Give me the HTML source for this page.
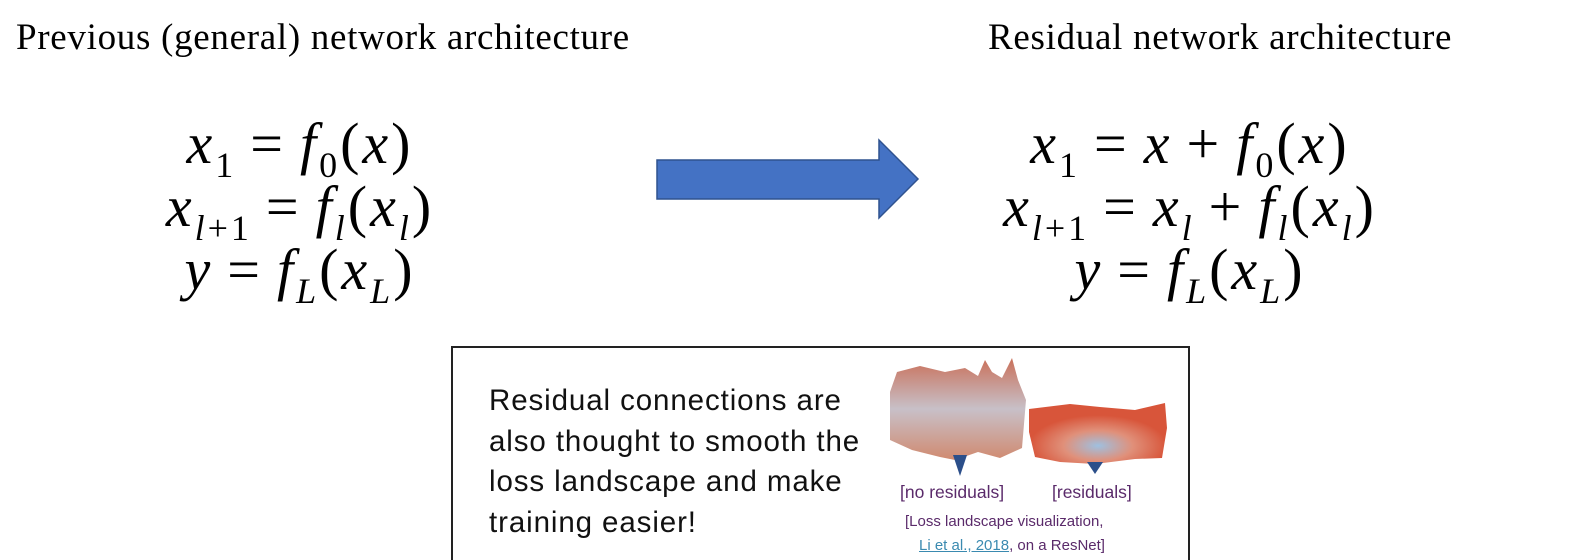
<!DOCTYPE html>
<html style="margin:0;width:1579px;height:560px;overflow:hidden"><head><meta charset="utf-8"><style>
body{margin:0;width:1579px;height:560px;background:#fff;position:relative;overflow:hidden;font-family:"Liberation Serif",serif;color:#000}
.t{position:absolute;top:16px;font-size:37px;letter-spacing:0.7px;white-space:nowrap}
.eq{position:absolute;width:600px;text-align:center;font-size:58px;line-height:63px;font-style:italic;white-space:nowrap;letter-spacing:3px}
.eq sub{font-size:36px;vertical-align:-14px;line-height:0}
.eq .u{font-style:normal}
.eq .o{font-style:normal;margin:0 14px}
.box{position:absolute;left:451px;top:346px;width:739px;height:214px;border:2px solid #222;border-bottom:none;box-sizing:border-box}
.bt{position:absolute;left:489px;top:381px;font-family:"Liberation Sans",sans-serif;font-size:29.5px;letter-spacing:0.9px;line-height:40.7px;color:#111}
.cap{position:absolute;font-family:"Liberation Sans",sans-serif;color:#5a2a6a;white-space:nowrap}
</style></head><body>
<div class="t" style="left:16px">Previous (general) network architecture</div>
<div class="t" style="left:988px">Residual network architecture</div>
<div class="eq" style="left:0;top:112px">x<sub class="u">1</sub><span class="o">=</span>f<sub class="u">0</sub><span class="u">(</span>x<span class="u">)</span><br>x<sub>l<span class="u">+1</span></sub><span class="o">=</span>f<sub>l</sub><span class="u">(</span>x<sub>l</sub><span class="u">)</span><br>y<span class="o">=</span>f<sub>L</sub><span class="u">(</span>x<sub>L</sub><span class="u">)</span></div>
<div class="eq" style="left:890px;top:112px">x<sub class="u">1</sub><span class="o">=</span>x<span class="o">+</span>f<sub class="u">0</sub><span class="u">(</span>x<span class="u">)</span><br>x<sub>l<span class="u">+1</span></sub><span class="o">=</span>x<sub>l</sub><span class="o">+</span>f<sub>l</sub><span class="u">(</span>x<sub>l</sub><span class="u">)</span><br>y<span class="o">=</span>f<sub>L</sub><span class="u">(</span>x<sub>L</sub><span class="u">)</span></div>
<svg style="position:absolute;left:0;top:0" width="1579" height="560">
<polygon points="657,160 879,160 879,140 918,179 879,218 879,199 657,199" fill="#4472C4" stroke="#2F528F" stroke-width="1.5"/>
<defs>
<linearGradient id="g1" x1="0" y1="0" x2="0" y2="1"><stop offset="0" stop-color="#c9705a"/><stop offset="0.5" stop-color="#c8c0c8"/><stop offset="1" stop-color="#d08a70"/></linearGradient>
<radialGradient id="g2" cx="0.5" cy="0.7" r="0.5"><stop offset="0" stop-color="#9fc0e0"/><stop offset="0.5" stop-color="#e0907a"/><stop offset="1" stop-color="#d8553a"/></radialGradient>
</defs>
<path d="M890,392 L897,372 L920,366 L945,372 L965,368 L978,376 L985,360 L992,372 L1002,378 L1012,358 L1018,380 L1026,400 L1022,448 L1000,458 L978,452 L955,460 L940,457 L912,450 L890,440 Z" fill="url(#g1)"/>
<path d="M953,455 L960,476 L967,455 Z" fill="#2c4f8a"/>
<path d="M1029,409 L1070,404 L1100,407 L1135,410 L1165,403 L1167,428 L1162,458 L1135,459 L1095,464 L1060,462 L1035,457 L1029,432 Z" fill="url(#g2)"/>
<path d="M1087,462 L1095,474 L1103,462 Z" fill="#2c4f8a"/>
</svg>
<div class="box"></div>
<div class="bt">Residual connections are<br>also thought to smooth the<br>loss landscape and make<br>training easier!</div>
<div class="cap" style="left:900px;top:482px;font-size:17.5px">[no residuals]</div>
<div class="cap" style="left:1052px;top:482px;font-size:17.5px">[residuals]</div>
<div class="cap" style="left:905px;top:513px;font-size:15px">[Loss landscape visualization,</div>
<div class="cap" style="left:919px;top:537px;font-size:15px"><span style="color:#3a8ab0;text-decoration:underline">Li et al., 2018</span>, on a ResNet]</div>
</body></html>
